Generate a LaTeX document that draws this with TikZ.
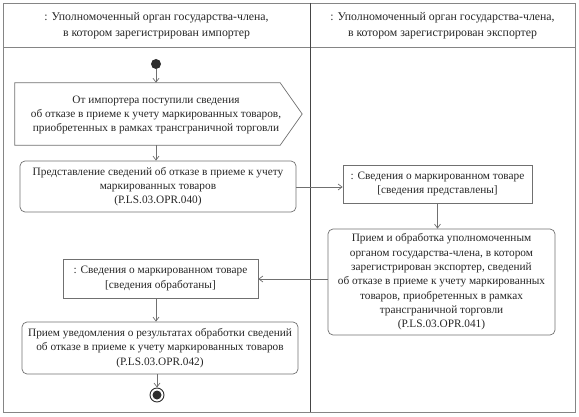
\documentclass[tikz,border=0pt]{standalone}
\usepackage{fontspec}
\setmainfont{Liberation Serif}
\usetikzlibrary{arrows.meta,calc}
\definecolor{linec}{HTML}{707070}
\definecolor{framec}{HTML}{858585}
\definecolor{divc}{HTML}{454545}
\definecolor{dotc}{HTML}{2E2E2E}
\begin{document}
\begin{tikzpicture}[x=1pt,y=-1pt,
  txt/.style={font=\fontsize{11.3}{14.3}\selectfont, align=center, text=black!85},
  hdr/.style={font=\fontsize{11.8}{16}\selectfont, align=center, text=black!85},
  actbox/.style={draw=linec, line width=0.7pt, rounded corners=5pt, txt, inner sep=0pt},
  objbox/.style={draw=linec, line width=0.7pt, txt, inner sep=0pt},
  arr/.style={draw=linec, line width=0.7pt, -{Straight Barb[length=4pt,width=6pt,line width=0.7pt]}},
  flow/.style={draw=linec, line width=0.7pt}]
\useasboundingbox (0,0) rectangle (579,417);
% frame and lanes
\draw[framec, line width=0.8pt] (3,3) rectangle (575,412);
\draw[framec, line width=0.8pt] (3,47) -- (575,47);
\draw[divc, line width=0.9pt] (310,3) -- (310,412);
\node[hdr] (hl) at (156.5,26) {: Уполномоченный орган государства-члена,\\ в котором зарегистрирован импортер};
\node[hdr] (hr) at (442.5,26) {: Уполномоченный орган государства-члена,\\ в котором зарегистрирован экспортер};
% start
\node[circle, fill=dotc, minimum size=10pt, inner sep=0pt] (start) at (156,64) {};
% signal
\node[minimum width=265pt, minimum height=62pt, inner sep=0pt] (sig) at (147.5,114) {};
\draw[linec, line width=0.7pt] (sig.north west) -- (sig.north east) -- ($(sig.east)+(22,0)$) -- (sig.south east) -- (sig.south west) -- cycle;
\node[txt] (sigt) at (156,115) {От импортера поступили сведения\\ об отказе в приеме к учету маркированных товаров,\\ приобретенных в рамках трансграничной торговли};
% box1
\node[actbox, minimum width=276pt, minimum height=51pt] (b1) at (158,186.5) {Представление сведений об отказе в приеме к учету\\ маркированных товаров\\ (P.LS.03.OPR.040)};
% object right
\node[objbox, minimum width=189pt, minimum height=38pt] (o1) at (437.5,184) {: Сведения о маркированном товаре\\ {[}сведения представлены{]}};
% box2
\node[actbox, minimum width=227pt, minimum height=106pt] (b2) at (441.5,282) {Прием и обработка уполномоченным\\ органом государства-члена, в котором\\ зарегистрирован экспортер, сведений\\ об отказе в приеме к учету маркированных\\ товаров, приобретенных в рамках\\ трансграничной торговли\\ (P.LS.03.OPR.041)};
% object left
\node[objbox, minimum width=195pt, minimum height=39pt] (o2) at (160.5,278.5) {: Сведения о маркированном товаре\\ {[}сведения обработаны{]}};
% box3
\node[actbox, minimum width=276pt, minimum height=52pt] (b3) at (160,348) {Прием уведомления о результатах обработки сведений\\ об отказе в приеме к учету маркированных товаров\\ (P.LS.03.OPR.042)};
% end
\node[circle, draw=dotc, line width=0.9pt, minimum size=14pt, inner sep=0pt] (end) at (157,395) {};
\node[circle, fill=dotc, minimum size=9pt, inner sep=0pt] (endi) at (end.center) {};
% connectors
\draw[arr] (start) -- (start |- sig.north);
\draw[arr] (start |- sig.south) -- (start |- b1.north);
\draw[arr] (b1.east |- 0,187) -- (o1.west |- 0,187);
\draw[arr] (o1.south) -- (o1.south |- b2.north);
\draw[arr] (b2.west |- 0,279) -- (o2.east |- 0,279);
\draw[arr] (start |- o2.south) -- (start |- b3.north);
\draw[arr] (end |- b3.south) -- (end.north);
\end{tikzpicture}
\end{document}
